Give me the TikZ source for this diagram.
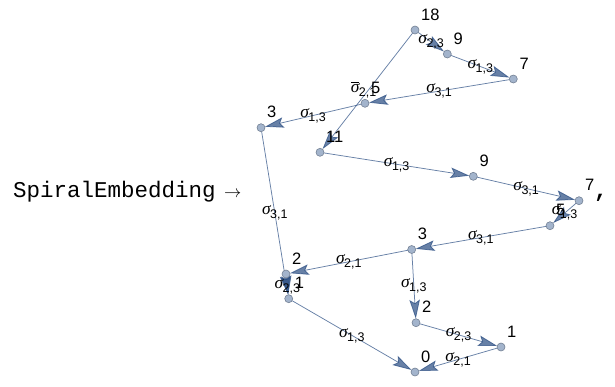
\documentclass[tikz,border=0pt]{standalone}
\usepackage{fontspec}
\setmainfont{Liberation Sans}
\newfontfamily\monofont{Liberation Mono}
\newfontfamily\greekfont{Liberation Serif}
\usetikzlibrary{arrows.meta}

\definecolor{edgecol}{rgb}{0.15,0.29,0.5}
\definecolor{vfill}{rgb}{0.64,0.704,0.8}
\definecolor{vdraw}{rgb}{0.45,0.5,0.58}

\pgfdeclarelayer{bg}
\pgfsetlayers{bg,main}

% edge label: italic sigma with a sans subscript pair
\newcommand\sigchar{{\fontsize{17.5bp}{17.5bp}\selectfont\greekfont\itshape σ}}
\newcommand\subpair[1]{\raisebox{-4bp}{\fontsize{12.5bp}{12.5bp}\selectfont #1}}
\newcommand\sg[1]{\sigchar\kern-0.5bp\subpair{#1}}
\newcommand\sgbar[1]{\vbox{\hrule height 0.8bp\kern 1.4bp\hbox{\sigchar}}\kern-0.5bp\subpair{#1}}

\tikzset{
  vtx/.style={circle, fill=vfill, draw=vdraw, line width=0.6bp,
    minimum size=8bp, inner sep=0pt, outer sep=0pt},
  vlab/.style={anchor=base west, inner sep=0pt,
    font=\fontsize{16.5bp}{16.5bp}\selectfont},
  link/.style={draw=edgecol, opacity=0.7, line width=0.75bp,
    -{Stealth[length=19bp, width=10.5bp, inset=3.5bp]}},
  elab/.style={inner sep=0pt, text=black, text opacity=1}
}

\begin{document}
\begin{tikzpicture}[x=1bp, y=-1bp]
\useasboundingbox (0,0) rectangle (615,386);

% left-hand text
\node[anchor=base west, inner sep=0pt, font=\monofont\fontsize{22.5bp}{22.5bp}\selectfont]
  (name) at (13,197) {SpiralEmbedding};
\node[anchor=base west, inner sep=0pt, font=\fontsize{17bp}{17bp}\selectfont]
  (arr) at (224,197) {$\rightarrow$};
\node[anchor=base west, inner sep=0pt, font=\monofont\bfseries\fontsize{22.5bp}{22.5bp}\selectfont]
  (comma) at (594,197) {,};

% vertices
\node[vtx] (v18) at (415,30) {};
\node[vtx] (v9a) at (447.3,54) {};
\node[vtx] (v7a) at (513.3,79) {};
\node[vtx] (v5a) at (365,103.3) {};
\node[vtx] (v3a) at (261,127.7) {};
\node[vtx] (v11) at (320,152.3) {};
\node[vtx] (v9b) at (473.3,176.3) {};
\node[vtx] (v7b) at (579,200.7) {};
\node[vtx] (v5b) at (550,225.7) {};
\node[vtx] (v3b) at (411.7,249.5) {};
\node[vtx] (v2a) at (286,274) {};
\node[vtx] (v1a) at (288.7,298.7) {};
\node[vtx] (v2b) at (416,322.7) {};
\node[vtx] (v1b) at (501,347) {};
\node[vtx] (v0)  at (415,372) {};

% edges with their labels
\begin{pgfonlayer}{bg}
\draw[link] (v18) -- node[elab]{\sg{2,3}} (v9a);
\draw[link] (v9a) -- node[elab]{\sg{1,3}} (v7a);
\draw[link] (v7a) -- node[elab]{\sg{3,1}} (v5a);
\draw[link] (v5a) -- node[elab]{\sg{1,3}} (v3a);
\draw[link] (v3a) -- node[elab]{\sg{3,1}} (v1a);
\draw[link] (v1a) -- node[elab]{\sg{1,3}} (v0);
\draw[link] (v18) -- node[elab, xshift=-4bp, yshift=1bp]{\sgbar{2,1}} (v11);
\draw[link] (v11) -- node[elab]{\sg{1,3}} (v9b);
\draw[link] (v9b) -- node[elab]{\sg{3,1}} (v7b);
\draw[link] (v7b) -- node[elab]{\sg{1,3}} (v5b);
\draw[link] (v5b) -- node[elab]{\sg{3,1}} (v3b);
\draw[link] (v3b) -- node[elab]{\sg{2,1}} (v2a);
\draw[link] (v2a) -- node[elab]{\sg{2,3}} (v1a);
\draw[link] (v3b) -- node[elab]{\sg{1,3}} (v2b);
\draw[link] (v2b) -- node[elab]{\sg{2,3}} (v1b);
\draw[link] (v1b) -- node[elab]{\sg{2,1}} (v0);
\end{pgfonlayer}

% vertex names, up and to the right of each vertex
\foreach \v/\t in {v18/18, v9a/9, v7a/7, v5a/5, v3a/3, v11/11, v9b/9, v7b/7,
                   v5b/5, v3b/3, v2a/2, v1a/1, v2b/2, v1b/1, v0/0}
  \node[vlab] (l\v) at ([shift={(6bp,10bp)}]\v.center) {\t};
\end{tikzpicture}
\end{document}
